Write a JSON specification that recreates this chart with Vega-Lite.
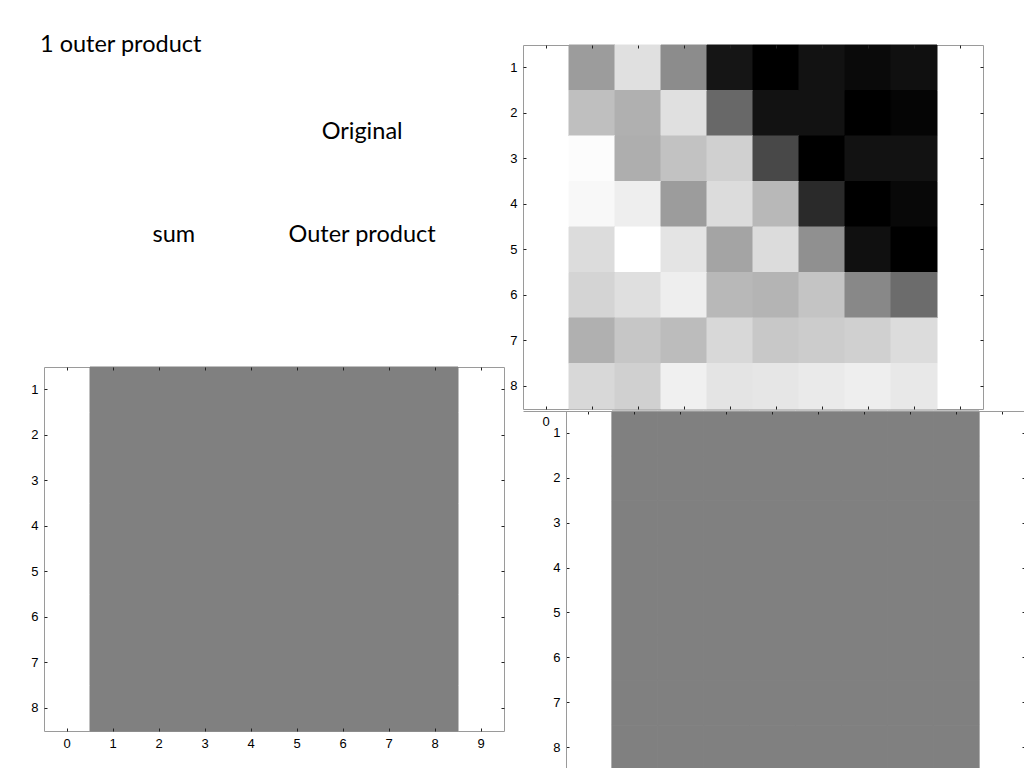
{
  "$schema": "https://vega.github.io/schema/vega-lite/v6.json",
  "padding": {"left": 30, "top": 32, "right": 0, "bottom": 0},
  "background": "white",
  "datasets": {
    "labels": [
      {"label": "Original", "col": "right", "line": "upper"},
      {"label": "sum", "col": "left", "line": "lower"},
      {"label": "Outer product", "col": "right", "line": "lower"}
    ],
    "orig": [
      {"row":1,"col":1,"v":156},{"row":1,"col":2,"v":224},{"row":1,"col":3,"v":140},{"row":1,"col":4,"v":21},{"row":1,"col":5,"v":0},{"row":1,"col":6,"v":18},{"row":1,"col":7,"v":10},{"row":1,"col":8,"v":16},
      {"row":2,"col":1,"v":191},{"row":2,"col":2,"v":176},{"row":2,"col":3,"v":224},{"row":2,"col":4,"v":104},{"row":2,"col":5,"v":18},{"row":2,"col":6,"v":18},{"row":2,"col":7,"v":0},{"row":2,"col":8,"v":5},
      {"row":3,"col":1,"v":252},{"row":3,"col":2,"v":174},{"row":3,"col":3,"v":194},{"row":3,"col":4,"v":208},{"row":3,"col":5,"v":72},{"row":3,"col":6,"v":0},{"row":3,"col":7,"v":18},{"row":3,"col":8,"v":18},
      {"row":4,"col":1,"v":248},{"row":4,"col":2,"v":238},{"row":4,"col":3,"v":156},{"row":4,"col":4,"v":220},{"row":4,"col":5,"v":184},{"row":4,"col":6,"v":42},{"row":4,"col":7,"v":0},{"row":4,"col":8,"v":8},
      {"row":5,"col":1,"v":220},{"row":5,"col":2,"v":255},{"row":5,"col":3,"v":228},{"row":5,"col":4,"v":164},{"row":5,"col":5,"v":220},{"row":5,"col":6,"v":144},{"row":5,"col":7,"v":16},{"row":5,"col":8,"v":0},
      {"row":6,"col":1,"v":212},{"row":6,"col":2,"v":223},{"row":6,"col":3,"v":238},{"row":6,"col":4,"v":184},{"row":6,"col":5,"v":180},{"row":6,"col":6,"v":196},{"row":6,"col":7,"v":136},{"row":6,"col":8,"v":108},
      {"row":7,"col":1,"v":176},{"row":7,"col":2,"v":198},{"row":7,"col":3,"v":188},{"row":7,"col":4,"v":216},{"row":7,"col":5,"v":200},{"row":7,"col":6,"v":204},{"row":7,"col":7,"v":208},{"row":7,"col":8,"v":220},
      {"row":8,"col":1,"v":216},{"row":8,"col":2,"v":208},{"row":8,"col":3,"v":240},{"row":8,"col":4,"v":228},{"row":8,"col":5,"v":230},{"row":8,"col":6,"v":234},{"row":8,"col":7,"v":238},{"row":8,"col":8,"v":232}
    ],
    "flat": [
      {"row":1,"col":1,"v":128},{"row":1,"col":2,"v":128},{"row":1,"col":3,"v":128},{"row":1,"col":4,"v":128},{"row":1,"col":5,"v":128},{"row":1,"col":6,"v":128},{"row":1,"col":7,"v":128},{"row":1,"col":8,"v":128},
      {"row":2,"col":1,"v":128},{"row":2,"col":2,"v":128},{"row":2,"col":3,"v":128},{"row":2,"col":4,"v":128},{"row":2,"col":5,"v":128},{"row":2,"col":6,"v":128},{"row":2,"col":7,"v":128},{"row":2,"col":8,"v":128},
      {"row":3,"col":1,"v":128},{"row":3,"col":2,"v":128},{"row":3,"col":3,"v":128},{"row":3,"col":4,"v":128},{"row":3,"col":5,"v":128},{"row":3,"col":6,"v":128},{"row":3,"col":7,"v":128},{"row":3,"col":8,"v":128},
      {"row":4,"col":1,"v":128},{"row":4,"col":2,"v":128},{"row":4,"col":3,"v":128},{"row":4,"col":4,"v":128},{"row":4,"col":5,"v":128},{"row":4,"col":6,"v":128},{"row":4,"col":7,"v":128},{"row":4,"col":8,"v":128},
      {"row":5,"col":1,"v":128},{"row":5,"col":2,"v":128},{"row":5,"col":3,"v":128},{"row":5,"col":4,"v":128},{"row":5,"col":5,"v":128},{"row":5,"col":6,"v":128},{"row":5,"col":7,"v":128},{"row":5,"col":8,"v":128},
      {"row":6,"col":1,"v":128},{"row":6,"col":2,"v":128},{"row":6,"col":3,"v":128},{"row":6,"col":4,"v":128},{"row":6,"col":5,"v":128},{"row":6,"col":6,"v":128},{"row":6,"col":7,"v":128},{"row":6,"col":8,"v":128},
      {"row":7,"col":1,"v":128},{"row":7,"col":2,"v":128},{"row":7,"col":3,"v":128},{"row":7,"col":4,"v":128},{"row":7,"col":5,"v":128},{"row":7,"col":6,"v":128},{"row":7,"col":7,"v":128},{"row":7,"col":8,"v":128},
      {"row":8,"col":1,"v":128},{"row":8,"col":2,"v":128},{"row":8,"col":3,"v":128},{"row":8,"col":4,"v":128},{"row":8,"col":5,"v":128},{"row":8,"col":6,"v":128},{"row":8,"col":7,"v":128},{"row":8,"col":8,"v":128}
    ]
  },
  "concat": [
    {
      "spacing": 44,
      "vconcat": [
        {
          "width": 448,
          "height": 277,
          "view": {"stroke": null},
          "title": {"text": "1 outer product", "anchor": "start", "font": "Lato", "fontSize": 23.5, "fontWeight": "normal", "color": "#000000", "offset": -11, "dx": -4},
          "data": {"name": "labels"},
          "mark": {"type": "text", "font": "Lato", "fontSize": 23.5, "color": "#000000"},
          "encoding": {
            "x": {"field": "col", "type": "nominal", "scale": {"type": "point", "domain": ["left", "right"], "padding": 0.69}, "axis": null},
            "y": {"field": "line", "type": "nominal", "scale": {"type": "point", "domain": ["upper", "lower"], "padding": 0.845}, "axis": null},
            "text": {"field": "label"}
          }
        },
        {
          "width": 460,
          "height": 364,
          "data": {"name": "flat"},
          "layer": [
            {
              "mark": {"type": "rect", "strokeWidth": 1},
              "encoding": {
                "x": {"field": "col", "type": "ordinal", "scale": {"domain": [0,1,2,3,4,5,6,7,8,9], "paddingInner": 0, "paddingOuter": 0}, "axis": {"orient": "bottom", "title": null, "labelAngle": 0}},
                "y": {"field": "row", "type": "ordinal", "scale": {"domain": [1,2,3,4,5,6,7,8], "paddingInner": 0, "paddingOuter": 0}, "axis": {"orient": "left", "title": null}},
                "color": {"field": "v", "type": "quantitative", "scale": {"domain": [0, 255], "range": ["#000000", "#ffffff"], "interpolate": "rgb"}, "legend": null},
                "stroke": {"field": "v", "type": "quantitative", "scale": {"domain": [0, 255], "range": ["#000000", "#ffffff"], "interpolate": "rgb"}, "legend": null}
              }
            },
            {
              "mark": {"type": "rect", "opacity": 0},
              "encoding": {
                "x": {"field": "col", "type": "ordinal", "axis": {"orient": "top", "title": null, "labels": false}},
                "y": {"field": "row", "type": "ordinal", "axis": {"orient": "right", "title": null, "labels": false}}
              }
            }
          ],
          "resolve": {"axis": {"x": "independent", "y": "independent"}}
        }
      ]
    },
    {
      "columns": 1,
      "align": "none",
      "spacing": -19,
      "concat": [
        {
          "width": 460,
          "height": 364,
          "data": {"name": "orig"},
          "layer": [
            {
              "mark": {"type": "rect", "strokeWidth": 1},
              "encoding": {
                "x": {"field": "col", "type": "ordinal", "scale": {"domain": [0,1,2,3,4,5,6,7,8,9], "paddingInner": 0, "paddingOuter": 0}, "axis": {"orient": "bottom", "title": null, "labelAngle": 0, "labelExpr": "datum.value == 0 ? '0' : ''"}},
                "y": {"field": "row", "type": "ordinal", "scale": {"domain": [1,2,3,4,5,6,7,8], "paddingInner": 0, "paddingOuter": 0}, "axis": {"orient": "left", "title": null}},
                "color": {"field": "v", "type": "quantitative", "scale": {"domain": [0, 255], "range": ["#000000", "#ffffff"], "interpolate": "rgb"}, "legend": null},
                "stroke": {"field": "v", "type": "quantitative", "scale": {"domain": [0, 255], "range": ["#000000", "#ffffff"], "interpolate": "rgb"}, "legend": null}
              }
            },
            {
              "mark": {"type": "rect", "opacity": 0},
              "encoding": {
                "x": {"field": "col", "type": "ordinal", "axis": {"orient": "top", "title": null, "labels": false, "minExtent": 12}},
                "y": {"field": "row", "type": "ordinal", "axis": {"orient": "right", "title": null, "labels": false}}
              }
            }
          ],
          "resolve": {"axis": {"x": "independent", "y": "independent"}}
        },
        {
          "width": 502,
          "height": 359,
          "view": {"stroke": null},
          "data": {"name": "flat"},
          "layer": [
            {
              "mark": {"type": "rect", "strokeWidth": 1},
              "encoding": {
                "x": {"field": "col", "type": "ordinal", "scale": {"domain": [0,1,2,3,4,5,6,7,8,9], "paddingInner": 0, "paddingOuter": 0.4685, "align": 1}, "axis": null},
                "y": {"field": "row", "type": "ordinal", "scale": {"domain": [1,2,3,4,5,6,7,8], "paddingInner": 0, "paddingOuter": 0}, "axis": {"orient": "left", "title": null, "offset": -43, "domain": true, "domainColor": "#9a9a9a"}},
                "color": {"field": "v", "type": "quantitative", "scale": {"domain": [0, 255], "range": ["#000000", "#ffffff"], "interpolate": "rgb"}, "legend": null},
                "stroke": {"field": "v", "type": "quantitative", "scale": {"domain": [0, 255], "range": ["#000000", "#ffffff"], "interpolate": "rgb"}, "legend": null}
              }
            },
            {
              "mark": {"type": "rect", "opacity": 0},
              "encoding": {
                "x": {"field": "col", "type": "ordinal", "axis": {"orient": "top", "title": null, "labels": false, "domain": true, "domainColor": "#9a9a9a"}},
                "y": {"field": "row", "type": "ordinal", "axis": {"orient": "right", "title": null, "labels": false}}
              }
            }
          ],
          "resolve": {"axis": {"x": "independent", "y": "independent"}}
        }
      ]
    }
  ],
  "columns": 2,
  "spacing": 4,
  "config": {
    "view": {"stroke": "#9a9a9a"},
    "axis": {"domain": false, "grid": false, "ticks": true, "tickSize": -3, "tickColor": "#222222", "tickWidth": 1, "labelFont": "Liberation Sans", "labelFontSize": 13, "labelColor": "#000000", "labelPadding": 9}
  }
}
